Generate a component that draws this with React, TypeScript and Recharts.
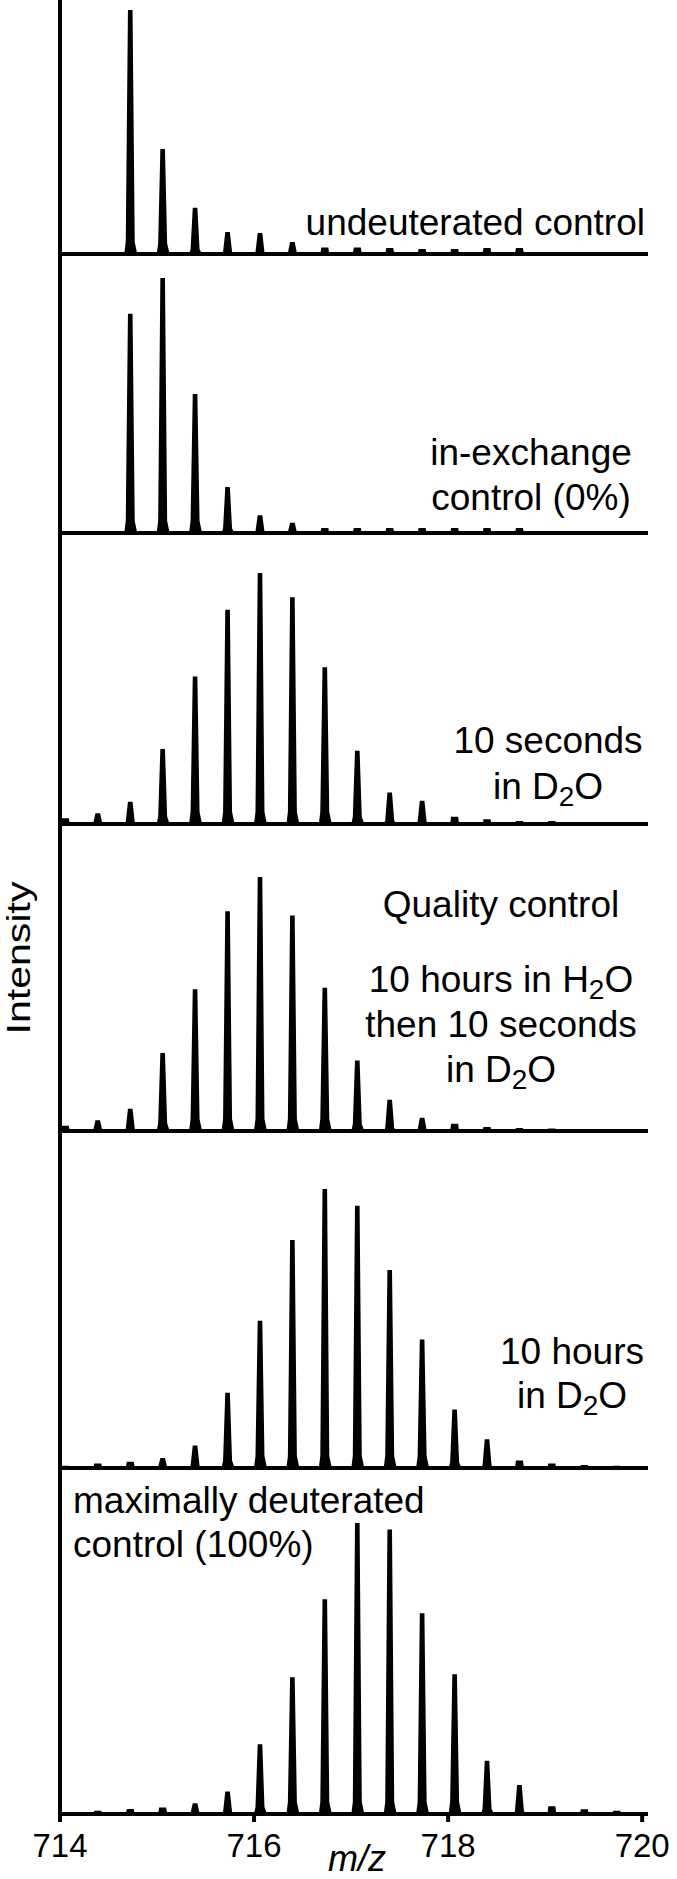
import { ScatterChart, Scatter, XAxis, YAxis } from "recharts"

// isotope peak positions (m/z), shared by all spectra
const mzPeaks = [
  714.055, 714.389, 714.724, 715.058, 715.392, 715.727, 716.061, 716.395, 716.729,
  717.064, 717.398, 717.732, 718.067, 718.401, 718.735, 719.069, 719.404, 719.738,
]

// relative intensities (%), one value per isotope peak, 0 = not visible
const undeuterated = [0, 0, 100, 43, 19, 9, 8.6, 4.9, 2.7, 2.7, 2.5, 2, 2, 2.5, 2.5, 0, 0, 0]
const inExchange = [0, 0, 86, 100, 54.5, 18, 7, 4, 2, 2, 2, 2, 2, 2, 2, 0, 0, 0]
const tenSeconds = [2.3, 4.3, 8.9, 29.9, 58.7, 85.3, 100, 90.3, 62.4, 29.2, 12.5, 9.3, 2.9, 1.9, 1.2, 1.2, 0, 0]
const qualityControl = [2.1, 4.2, 8.8, 30.7, 55.8, 86.5, 100, 84.9, 56.4, 27.8, 12.3, 5.2, 2.9, 1.6, 1.2, 1, 0, 0]
const tenHours = [0.8, 1.6, 2.2, 3.6, 8.1, 27, 52.8, 81.7, 100, 94, 71, 46.1, 21, 10.3, 2.7, 1.6, 1.1, 0.8]
const maxDeuterated = [0.6, 1.1, 1.7, 2.2, 3.7, 7.7, 24, 47, 73.8, 100, 97.8, 69, 48, 18.3, 10, 2.7, 1.6, 1.1]

const xTicks = [714, 716, 718, 720]

const FONT = "'Liberation Sans', Arial, Helvetica, sans-serif"
const W = 677

const panels = [
  { values: undeuterated, top: 0, base: 254, yMax: 104.1 },
  { values: inExchange, top: 254, base: 533, yMax: 109.4 },
  { values: tenSeconds, top: 533, base: 824, yMax: 115.9 },
  { values: qualityControl, top: 824, base: 1131, yMax: 120.9 },
  { values: tenHours, top: 1131, base: 1468, yMax: 120.8 },
  { values: maxDeuterated, top: 1468, base: 1814, yMax: 118.9 },
]

// text labels; "_2" marks a subscript 2
const labels = [
  { anchor: "end", x: 645, lines: [["undeuterated control", 235]] },
  { anchor: "middle", x: 531, lines: [["in-exchange", 465], ["control (0%)", 510]] },
  { anchor: "middle", x: 548, lines: [["10 seconds", 753], ["in D_2O", 799]] },
  {
    anchor: "middle",
    x: 501,
    lines: [["Quality control", 917], ["10 hours in H_2O", 992], ["then 10 seconds", 1037], ["in D_2O", 1082]],
  },
  { anchor: "middle", x: 572, lines: [["10 hours", 1364], ["in D_2O", 1408]] },
  { anchor: "start", x: 73, lines: [["maximally deuterated", 1513], ["control (100%)", 1557]] },
]

const spike = (base: number) => (props: any) => {
  const { cx, cy } = props
  if (cx == null || cy == null) return <g />
  const h = base - cy
  if (h < 9) {
    return <polygon points={`${cx - 4.5},${base} ${cx - 3.5},${cy} ${cx + 3.5},${cy} ${cx + 4.5},${base}`} fill="#000" />
  }
  const f = Math.min(h * 0.1, 12)
  const pts = [
    [cx - 6, base],
    [cx - 4.5, base - f],
    [cx - 2.3, cy],
    [cx + 2.3, cy],
    [cx + 4.5, base - f],
    [cx + 7, base],
  ]
  return <polygon points={pts.map((p) => p.join(",")).join(" ")} fill="#000" />
}

function renderLine(text: string) {
  const parts = text.split("_2")
  const out: any[] = []
  parts.forEach((p, i) => {
    if (i > 0) {
      out.push(
        <tspan key={"s" + i} dy={7} fontSize={28}>
          2
        </tspan>
      )
      out.push(
        <tspan key={"t" + i} dy={-7}>
          {p}
        </tspan>
      )
    } else {
      out.push(<tspan key={"t" + i}>{p}</tspan>)
    }
  })
  return out
}

function Panel({ p, last }: { p: (typeof panels)[number]; last: boolean }) {
  const plotH = p.base - p.top
  const axisH = last ? 65 : 12
  const data = mzPeaks.map((mz, i) => ({ mz, v: p.values[i] })).filter((d) => d.v > 0)
  return (
    <div style={{ position: "absolute", left: 0, top: p.top }}>
      <ScatterChart width={W} height={plotH + axisH} margin={{ top: 0, right: 29, bottom: 0, left: 0 }}>
        <XAxis
          type="number"
          dataKey="mz"
          domain={[714, 720.06]}
          ticks={xTicks}
          interval={0}
          allowDataOverflow
          height={axisH}
          tickSize={8}
          tickMargin={12}
          axisLine={{ stroke: "#000", strokeWidth: 4 }}
          tickLine={{ stroke: "#000", strokeWidth: 4 }}
          tick={last ? { fill: "#000", fontSize: 33, fontFamily: FONT } : false}
        />
        <YAxis
          type="number"
          dataKey="v"
          domain={[0, p.yMax]}
          allowDataOverflow
          width={60}
          tick={false}
          tickLine={false}
          axisLine={{ stroke: "#000", strokeWidth: 4 }}
        />
        <Scatter data={data} shape={spike(plotH)} isAnimationActive={false} />
      </ScatterChart>
    </div>
  )
}

export default function App() {
  return (
    <div style={{ position: "absolute", left: 0, top: 0, width: W, height: 1879, background: "#fff" }}>
      {panels.map((p, i) => (
        <Panel key={i} p={p} last={i === panels.length - 1} />
      ))}
      <svg
        width={W}
        height={1879}
        style={{ position: "absolute", left: 0, top: 0, pointerEvents: "none" }}
        fontFamily={FONT}
      >
        {labels.map((l, i) =>
          l.lines.map(([t, y], j) => (
            <text key={i + "-" + j} x={l.x} y={y as number} textAnchor={l.anchor as any} fontSize={37} fill="#000">
              {renderLine(t as string)}
            </text>
          ))
        )}
        <text
          x={30}
          y={958}
          transform="rotate(-90 30 958)"
          textAnchor="middle"
          fontSize={33}
          textLength={153}
          lengthAdjust="spacingAndGlyphs"
          fill="#000"
        >
          Intensity
        </text>
        <text x={357} y={1871} textAnchor="middle" fontSize={36} fontStyle="italic" fill="#000">
          m/z
        </text>
      </svg>
    </div>
  )
}
